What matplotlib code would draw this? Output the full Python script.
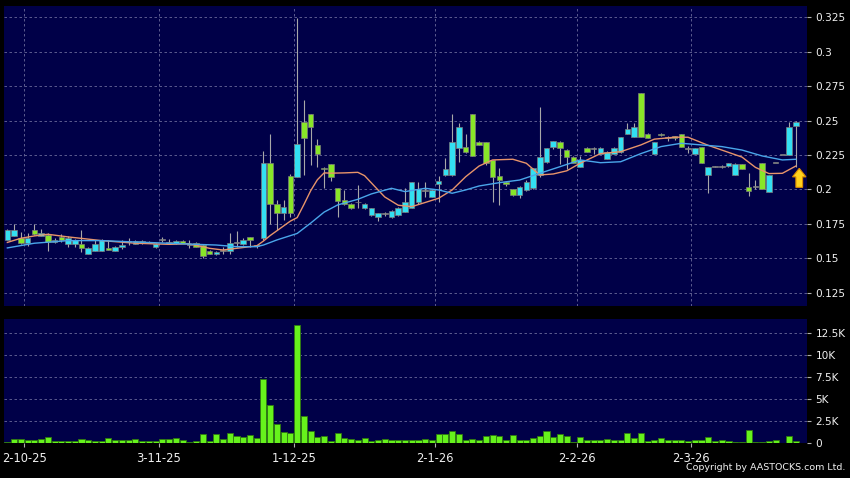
import numpy as np
import matplotlib
matplotlib.use('Agg')
import matplotlib.pyplot as plt
from matplotlib.ticker import FixedLocator

# daily candles (open, high, low, close), one per trading day
opens = [0.1636, 0.1660, 0.1650, 0.1610, 0.1705, 0.1665, 0.1670, 0.1618, 0.1657, 0.1604,
         0.1604, 0.1604, 0.1531, 0.1555, 0.1555, 0.1573, 0.1555, 0.1584, 0.1615, 0.1604,
         0.1610, 0.1612, 0.1580, 0.1633, 0.1611, 0.1611, 0.1628, 0.1596, 0.1611, 0.1597,
         0.1555, 0.1531, 0.1555, 0.1555, 0.1611, 0.1600, 0.1652, 0.1587, 0.1650, 0.2195,
         0.1897, 0.1826, 0.2100, 0.2088, 0.2492, 0.2546, 0.2323, 0.2158, 0.2183, 0.2008,
         0.1923, 0.1897, 0.1905, 0.1862, 0.1814, 0.1798, 0.1822, 0.1798, 0.1814, 0.1838,
         0.1862, 0.1905, 0.1990, 0.1947, 0.2039, 0.2102, 0.2102, 0.2301, 0.2306, 0.2546,
         0.2345, 0.2345, 0.2214, 0.2097, 0.2056, 0.2001, 0.1960, 0.1996, 0.2008, 0.2105,
         0.2201, 0.2306, 0.2345, 0.2286, 0.2238, 0.2161, 0.2299, 0.2294, 0.2260, 0.2224,
         0.2260, 0.2274, 0.2403, 0.2383, 0.2698, 0.2403, 0.2260, 0.2403, 0.2371, 0.2385,
         0.2403, 0.2294, 0.2260, 0.2306, 0.2105, 0.2165, 0.2165, 0.2170, 0.2105, 0.2183,
         0.2020, 0.2020, 0.2194, 0.1979, 0.2195, 0.2249, 0.2249, 0.2460]
highs = [0.1715, 0.1750, 0.1688, 0.1680, 0.1750, 0.1710, 0.1680, 0.1650, 0.1675, 0.1660,
         0.1640, 0.1705, 0.1580, 0.1633, 0.1640, 0.1633, 0.1590, 0.1633, 0.1645, 0.1630,
         0.1630, 0.1625, 0.1610, 0.1655, 0.1640, 0.1633, 0.1630, 0.1633, 0.1620, 0.1600,
         0.1560, 0.1555, 0.1580, 0.1680, 0.1697, 0.1645, 0.1655, 0.1597, 0.2279, 0.2403,
         0.1920, 0.1923, 0.2110, 0.3243, 0.2650, 0.2546, 0.2366, 0.2165, 0.2183, 0.2008,
         0.1995, 0.1900, 0.2032, 0.1900, 0.1865, 0.1830, 0.1835, 0.1852, 0.1875, 0.2008,
         0.2052, 0.2052, 0.2055, 0.2000, 0.2098, 0.2225, 0.2546, 0.2480, 0.2403, 0.2546,
         0.2350, 0.2345, 0.2214, 0.2155, 0.2058, 0.2003, 0.2025, 0.2065, 0.2155, 0.2596,
         0.2300, 0.2355, 0.2350, 0.2290, 0.2240, 0.2240, 0.2310, 0.2310, 0.2305, 0.2280,
         0.2305, 0.2380, 0.2485, 0.2485, 0.2698, 0.2410, 0.2345, 0.2410, 0.2390, 0.2390,
         0.2405, 0.2318, 0.2300, 0.2306, 0.2165, 0.2170, 0.2175, 0.2192, 0.2192, 0.2185,
         0.2118, 0.2065, 0.2194, 0.2105, 0.2195, 0.2249, 0.2487, 0.2495]
lows = [0.1630, 0.1660, 0.1600, 0.1590, 0.1670, 0.1660, 0.1550, 0.1610, 0.1620, 0.1580,
        0.1580, 0.1548, 0.1530, 0.1550, 0.1550, 0.1560, 0.1550, 0.1570, 0.1597, 0.1600,
        0.1605, 0.1610, 0.1575, 0.1618, 0.1600, 0.1600, 0.1610, 0.1575, 0.1580, 0.1502,
        0.1530, 0.1525, 0.1531, 0.1531, 0.1584, 0.1595, 0.1584, 0.1575, 0.1630, 0.1750,
        0.1705, 0.1780, 0.1800, 0.2088, 0.2105, 0.2178, 0.2164, 0.2010, 0.2063, 0.1798,
        0.1885, 0.1860, 0.1868, 0.1855, 0.1805, 0.1770, 0.1805, 0.1795, 0.1810, 0.1835,
        0.1862, 0.1895, 0.1945, 0.1945, 0.1905, 0.2100, 0.2100, 0.2202, 0.2265, 0.2245,
        0.2320, 0.2175, 0.1909, 0.1889, 0.2025, 0.1955, 0.1935, 0.1985, 0.2000, 0.2092,
        0.2195, 0.2295, 0.2187, 0.2145, 0.2190, 0.2160, 0.2270, 0.2255, 0.2255, 0.2220,
        0.2255, 0.2265, 0.2400, 0.2380, 0.2379, 0.2370, 0.2255, 0.2390, 0.2350, 0.2360,
        0.2305, 0.2263, 0.2255, 0.2190, 0.1972, 0.2160, 0.2155, 0.2165, 0.2105, 0.2145,
        0.1953, 0.2003, 0.2001, 0.1979, 0.2195, 0.2249, 0.2249, 0.2165]
closes = [0.1705, 0.1705, 0.1610, 0.1650, 0.1675, 0.1680, 0.1620, 0.1636, 0.1633, 0.1650,
          0.1633, 0.1573, 0.1573, 0.1604, 0.1633, 0.1561, 0.1584, 0.1594, 0.1615, 0.1625,
          0.1625, 0.1620, 0.1601, 0.1633, 0.1611, 0.1625, 0.1611, 0.1596, 0.1584, 0.1517,
          0.1531, 0.1546, 0.1555, 0.1611, 0.1611, 0.1636, 0.1636, 0.1587, 0.2195, 0.1897,
          0.1826, 0.1875, 0.1826, 0.2328, 0.2371, 0.2451, 0.2257, 0.2148, 0.2088, 0.1918,
          0.1897, 0.1862, 0.1905, 0.1897, 0.1862, 0.1826, 0.1822, 0.1843, 0.1867, 0.1905,
          0.2052, 0.2003, 0.1990, 0.1994, 0.2058, 0.2146, 0.2345, 0.2451, 0.2274, 0.2245,
          0.2323, 0.2190, 0.2092, 0.2068, 0.2039, 0.1960, 0.2020, 0.2056, 0.2153, 0.2238,
          0.2299, 0.2353, 0.2303, 0.2238, 0.2194, 0.2214, 0.2274, 0.2294, 0.2303, 0.2272,
          0.2303, 0.2379, 0.2437, 0.2451, 0.2379, 0.2371, 0.2345, 0.2393, 0.2371, 0.2370,
          0.2311, 0.2294, 0.2299, 0.2190, 0.2161, 0.2165, 0.2165, 0.2190, 0.2184, 0.2146,
          0.1986, 0.2020, 0.2001, 0.2105, 0.2195, 0.2249, 0.2455, 0.2487]

# volume in thousands
volume_k = [0.15, 0.49, 0.49, 0.38, 0.38, 0.45, 0.68, 0.27, 0.27, 0.27,
            0.27, 0.49, 0.38, 0.27, 0.23, 0.60, 0.38, 0.38, 0.38, 0.45,
            0.23, 0.23, 0.27, 0.49, 0.49, 0.64, 0.34, 0.15, 0.23, 1.02,
            0.27, 1.06, 0.53, 1.14, 0.83, 0.68, 0.98, 0.64, 7.30, 4.35,
            2.19, 1.28, 1.14, 13.4, 3.10, 1.38, 0.75, 0.80, 0.30, 1.13,
            0.57, 0.45, 0.38, 0.57, 0.26, 0.38, 0.45, 0.38, 0.38, 0.34,
            0.34, 0.38, 0.45, 0.42, 1.06, 1.06, 1.40, 1.06, 0.42, 0.53,
            0.34, 0.83, 0.98, 0.80, 0.42, 0.91, 0.42, 0.42, 0.60, 0.83,
            1.44, 0.72, 1.06, 0.87, 0.11, 0.72, 0.34, 0.34, 0.42, 0.51,
            0.42, 0.42, 1.17, 0.60, 1.17, 0.30, 0.38, 0.57, 0.42, 0.42,
            0.42, 0.27, 0.38, 0.38, 0.68, 0.30, 0.34, 0.23, 0.15, 0.15,
            1.48, 0.19, 0.15, 0.23, 0.38, 0.04, 0.80, 0.30]

# moving averages (day index, value)
ma10_idx = [0, 2, 4, 6, 9, 14, 19, 24, 27, 30, 32, 34, 36, 37, 38, 39, 40, 42, 43, 44,
            45, 46, 47, 48, 50, 52, 53, 55, 56, 58, 60, 62, 64, 66, 68, 70, 72, 75, 77, 79,
            81, 83, 85, 88, 91, 94, 96, 99, 101, 104, 106, 109, 111, 113, 115, 117]
ma10_val = [0.1615, 0.1645, 0.1662, 0.1674, 0.1655, 0.1628, 0.1609, 0.1601, 0.1605, 0.1572,
            0.1560, 0.1572, 0.1584, 0.1590, 0.1625, 0.1665, 0.1700, 0.1770, 0.1795, 0.1890,
            0.1990, 0.2070, 0.2120, 0.2118, 0.2120, 0.2124, 0.2100, 0.1996, 0.1945, 0.1885,
            0.1875, 0.1905, 0.1936, 0.1996, 0.2092, 0.2170, 0.2214, 0.2219, 0.2190, 0.2105,
            0.2112, 0.2135, 0.2190, 0.2260, 0.2274, 0.2323, 0.2365, 0.2379, 0.2379, 0.2320,
            0.2286, 0.2235, 0.2160, 0.2115, 0.2117, 0.2170]
ma20_idx = [0, 4, 9, 14, 19, 24, 28, 31, 34, 37, 38, 40, 43, 45, 47, 49, 52, 54, 57, 59,
            62, 64, 66, 68, 70, 73, 76, 79, 82, 85, 88, 91, 94, 97, 100, 103, 106, 109, 112,
            115, 117]
ma20_val = [0.1575, 0.1609, 0.1628, 0.1628, 0.1618, 0.1609, 0.1601, 0.1596, 0.1584, 0.1584,
            0.1596, 0.1633, 0.1680, 0.1755, 0.1835, 0.1887, 0.1928, 0.1967, 0.2008, 0.1984,
            0.2008, 0.1996, 0.1972, 0.1996, 0.2025, 0.2049, 0.2068, 0.2117, 0.2165, 0.2214,
            0.2194, 0.2201, 0.2260, 0.2311, 0.2335, 0.2323, 0.2311, 0.2286, 0.2243, 0.2214,
            0.2219]

# first trading day of each month shown on the axis
month_idx = [3, 23, 43, 64, 85, 102]
month_labels = ['2-10-25', '3-11-25', '1-12-25', '2-1-26', '2-2-26', '2-3-26']

price_ticks = [0.125, 0.15, 0.175, 0.2, 0.225, 0.25, 0.275, 0.3, 0.325]
vol_ticks = [0, 2.5, 5, 7.5, 10, 12.5]

# buy signal arrow
signal_idx = 117.5
signal_low, signal_high = 0.2015, 0.2153

BG = '#000048'
GRID = '#6a6a9a'
UP = '#33e0f2'
DOWN = '#88e628'
WICK = '#a8a8a8'
TXT = '#f0f0f0'

o = np.array(opens)
c = np.array(closes)
h = np.array(highs)
l = np.array(lows)
x = np.arange(len(o))

fig = plt.figure(figsize=(8.5, 4.78), dpi=100, facecolor='black')
ax = fig.add_axes([0.0047, 0.3598, 0.9451, 0.6276], facecolor=BG)
axv = fig.add_axes([0.0047, 0.0726, 0.9451, 0.26], facecolor=BG)

grid_x = [m - 0.5 for m in month_idx]
for a in (ax, axv):
    for s in a.spines.values():
        s.set_visible(False)
    a.set_xlim(-0.5, 118.7)
    a.xaxis.set_minor_locator(FixedLocator(grid_x))
    a.grid(True, which='minor', axis='x', color=GRID, lw=0.6, ls=(0, (3, 3)))
    a.grid(True, which='major', axis='y', color=GRID, lw=0.6, ls=(0, (3, 3)))
    a.yaxis.tick_right()
    a.tick_params(axis='y', which='both', direction='out', length=3, width=0.8,
                  color='#b0b0b0', labelcolor=TXT, labelsize=7.6, pad=3)
    a.tick_params(axis='x', which='minor', length=0)
    a.set_axisbelow(True)

# candles
ax.vlines(x, l, h, color=WICK, lw=0.8, zorder=2)
doji = np.isclose(o, c, atol=1e-5)
colors = np.where(doji, WICK, np.where(c > o, UP, DOWN))
body_h = np.maximum(np.abs(c - o), 0.0007)
ax.bar(x, body_h, bottom=np.minimum(o, c), width=0.82, color=colors,
       edgecolor='#7c7c7c', lw=0.5, zorder=3)

ax.plot(ma10_idx, ma10_val, color='#e8946a', lw=1.0, zorder=4)
ax.plot(ma20_idx, ma20_val, color='#4aa6ea', lw=1.0, zorder=4)

ax.arrow(signal_idx, signal_low, 0, signal_high - signal_low, width=1.0,
         head_width=2.0, head_length=0.0062, length_includes_head=True,
         fc='#ffd21c', ec='#d98a00', lw=0.8, zorder=5)

ax.set_ylim(0.1153, 0.3332)
ax.set_yticks(price_ticks)
ax.set_yticklabels([f'{t:g}' for t in price_ticks])
ax.set_xticks([])

# volume
axv.bar(x, volume_k, width=0.9, color='#66f21c', edgecolor='#2f7a10', lw=0.6, zorder=3)
axv.set_ylim(0, 14.1)
axv.set_yticks(vol_ticks)
axv.set_yticklabels(['0' if t == 0 else f'{t:g}K' for t in vol_ticks])
axv.set_xticks(grid_x)
axv.set_xticklabels(month_labels)
axv.tick_params(axis='x', which='major', direction='out', length=3, width=0.8,
                color='#b0b0b0', labelcolor=TXT, labelsize=8.3, pad=3)
axv.grid(False, which='major', axis='x')

fig.text(0.994, 0.012, 'Copyright by AASTOCKS.com Ltd.', ha='right', va='bottom',
         color=TXT, fontsize=6.8)

fig.savefig('out.png', dpi=100, facecolor='black')
